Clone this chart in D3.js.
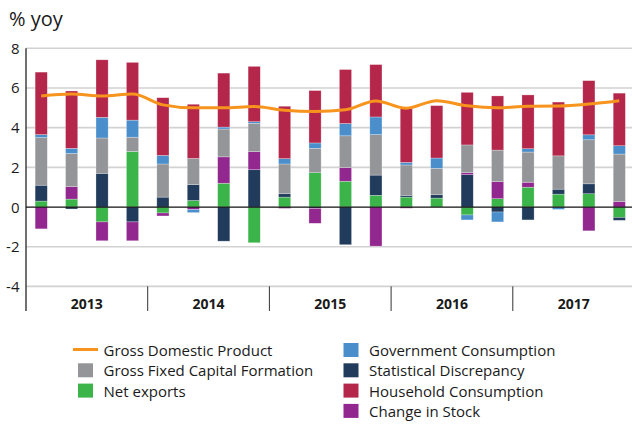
<!DOCTYPE html>
<html>
<head>
<meta charset="utf-8">
<script src="https://cdn.jsdelivr.net/npm/d3@7"></script>
<style>
  body { margin: 0; background: #fff; }
  svg { display: block; font-family: "Open Sans", sans-serif; }
</style>
</head>
<body>
<div id="my_dataviz"></div>
<script>
// quarters 2013Q1 .. 2017Q4
var years = ["2013", "2014", "2015", "2016", "2017"]
var quarters = []
years.forEach(function (y) { [1, 2, 3, 4].forEach(function (q) { quarters.push(y + "Q" + q) }) })

// contributions, percentage points
var netExports  = [0.3, 0.4, -0.75, 2.8, -0.3, 0.33, 1.2, -1.8, 0.5, 1.73, 1.3, 0.59, 0.5, 0.45, -0.4, 0.42, 1.0, 0.65, 0.67, -0.52]
var statDisc    = [0.8, -0.1, 1.7, -0.75, 0.5, 0.8, -1.72, 1.88, 0.17, -0.07, -1.9, 1.02, 0.09, 0.17, 1.63, -0.25, -0.65, 0.25, 0.5, -0.15]
var stockChange = [-1.1, 0.63, -0.95, -0.95, -0.15, -0.13, 1.33, 0.91, -0.07, -0.75, 0.69, -1.97, -0.06, 0, 0.1, 0.86, 0.25, 0, -1.2, 0.28]
var gfcf        = [2.4, 1.67, 1.78, 0.72, 1.67, 1.32, 1.4, 1.43, 1.5, 1.23, 1.6, 2.04, 1.53, 1.33, 1.4, 1.59, 1.52, 1.68, 2.22, 2.39]
var govCons     = [0.15, 0.26, 1.04, 0.86, 0.43, -0.15, 0.1, 0.08, 0.27, 0.27, 0.62, 0.89, 0.13, 0.52, -0.25, -0.5, 0.17, -0.12, 0.25, 0.42]
var hhCons      = [3.15, 2.89, 2.9, 2.91, 2.91, 2.73, 2.72, 2.79, 2.64, 2.64, 2.72, 2.64, 2.72, 2.64, 2.65, 2.73, 2.71, 2.71, 2.73, 2.65]
var gdp         = [5.6, 5.7, 5.6, 5.7, 5.15, 5.0, 5.0, 5.07, 4.88, 4.82, 4.9, 5.35, 4.98, 5.36, 5.1, 5.0, 5.08, 5.09, 5.19, 5.36]

var yTicks = [-4, -2, 0, 2, 4, 6, 8]

// series in stacking order (bottom to top)
var keys = ["netExports", "statDisc", "stockChange", "gfcf", "govCons", "hhCons"]
var seriesValues = [netExports, statDisc, stockChange, gfcf, govCons, hhCons]
var colors = ["#3bb44a", "#213b5c", "#92278f", "#939598", "#4a8fcb", "#b5264b"]

var rows = quarters.map(function (q, i) {
  var r = { quarter: q }
  keys.forEach(function (k, j) { r[k] = seriesValues[j][i] })
  return r
})

// size and margins
var width = 632,
    height = 424,
    plotLeft = 26,
    plotRight = 634.5,
    plotTop = 48.3,
    plotBottom = 286.4

var svg = d3.select("#my_dataviz")
  .append("svg")
    .attr("width", width)
    .attr("height", height)

var x = d3.scaleBand()
  .domain(quarters)
  .range([plotLeft, plotRight])
  .paddingInner(0.6)
  .paddingOuter(0.3)

var xYear = d3.scaleBand()
  .domain(years)
  .range([plotLeft, plotRight])

var y = d3.scaleLinear()
  .domain([-4, 8])
  .range([plotBottom, plotTop])

var color = d3.scaleOrdinal()
  .domain(keys)
  .range(colors)

// grid lines
svg.append("g")
  .selectAll("line")
  .data(yTicks.filter(function (d) { return d !== 0 }))
  .enter()
  .append("line")
    .attr("x1", plotLeft)
    .attr("x2", width)
    .attr("y1", function (d) { return y(d) })
    .attr("y2", function (d) { return y(d) })
    .style("stroke", "#d2d2d2")
    .style("stroke-width", 1.6)

// y tick labels
svg.append("g")
  .selectAll("text")
  .data(yTicks)
  .enter()
  .append("text")
    .attr("x", 19.5)
    .attr("y", function (d) { return y(d) + 5.5 })
    .attr("text-anchor", "end")
    .style("font-size", "15px")
    .style("fill", "#1a1a1a")
    .text(function (d) { return d })

// stacked bars, negatives go below zero
var stack = d3.stack()
  .keys(keys)
  .offset(d3.stackOffsetDiverging)

svg.append("g")
  .selectAll("g")
  .data(stack(rows))
  .enter()
  .append("g")
    .attr("fill", function (d) { return color(d.key) })
  .selectAll("rect")
  .data(function (d) { return d })
  .enter()
  .append("rect")
    .attr("x", function (d) { return x(d.data.quarter) })
    .attr("width", x.bandwidth())
    .attr("y", function (d) { return y(Math.max(d[0], d[1])) })
    .attr("height", function (d) { return Math.abs(y(d[0]) - y(d[1])) })
    .style("stroke", "rgba(255,255,255,0.45)")
    .style("stroke-width", 0.6)

// zero line
svg.append("line")
  .attr("x1", plotLeft)
  .attr("x2", width)
  .attr("y1", y(0))
  .attr("y2", y(0))
  .style("stroke", "#111")
  .style("stroke-width", 1.2)

// GDP line
var line = d3.line()
  .x(function (d, i) { return x(quarters[i]) + x.bandwidth() / 2 })
  .y(function (d) { return y(d) })
  .curve(d3.curveMonotoneX)

svg.append("path")
  .datum(gdp)
  .attr("d", line)
  .attr("fill", "none")
  .style("stroke", "#f7941d")
  .style("stroke-width", 3)
  .style("stroke-linejoin", "round")

// left axis line and year separators
svg.append("line")
  .attr("x1", plotLeft).attr("x2", plotLeft)
  .attr("y1", plotTop).attr("y2", 311)
  .style("stroke", "#111")
  .style("stroke-width", 1.2)

svg.append("g")
  .selectAll("line")
  .data(years.slice(1))
  .enter()
  .append("line")
    .attr("x1", function (d) { return xYear(d) })
    .attr("x2", function (d) { return xYear(d) })
    .attr("y1", plotBottom)
    .attr("y2", 311)
    .style("stroke", "#333")
    .style("stroke-width", 1)

svg.append("g")
  .selectAll("text")
  .data(years)
  .enter()
  .append("text")
    .attr("x", function (d) { return xYear(d) + xYear.bandwidth() / 2 })
    .attr("y", 309)
    .attr("text-anchor", "middle")
    .style("font-size", "14px")
    .style("font-weight", "bold")
    .style("fill", "#1a1a1a")
    .text(function (d) { return d })

// title
svg.append("text")
  .attr("x", 9)
  .attr("y", 26)
  .style("font-size", "20px")
  .style("fill", "#1a1a1a")
  .text("% yoy")

// legend
var legendCol1 = [
  { label: "Gross Domestic Product", color: "#f7941d", line: true },
  { label: "Gross Fixed Capital Formation", color: colors[3] },
  { label: "Net exports", color: colors[0] }
]
var legendCol2 = [
  { label: "Government Consumption", color: colors[4] },
  { label: "Statistical Discrepancy", color: colors[1] },
  { label: "Household Consumption", color: colors[5] },
  { label: "Change in Stock", color: colors[2] }
]
var rowGap = 20.3

function drawLegend(items, x0) {
  var g = svg.append("g")
  items.forEach(function (d, i) {
    var base = 356 + i * rowGap
    if (d.line) {
      g.append("line")
        .attr("x1", x0 - 5).attr("x2", x0 + 20)
        .attr("y1", base - 6.5).attr("y2", base - 6.5)
        .style("stroke", d.color)
        .style("stroke-width", 3)
    } else {
      g.append("rect")
        .attr("x", x0)
        .attr("y", base - 13)
        .attr("width", 15)
        .attr("height", 14)
        .style("fill", d.color)
    }
    g.append("text")
      .attr("x", x0 + 25.5)
      .attr("y", base)
      .style("font-size", "15px")
      .style("fill", "#1a1a1a")
      .text(d.label)
  })
}
drawLegend(legendCol1, 78)
drawLegend(legendCol2, 343.5)
</script>
</body>
</html>
